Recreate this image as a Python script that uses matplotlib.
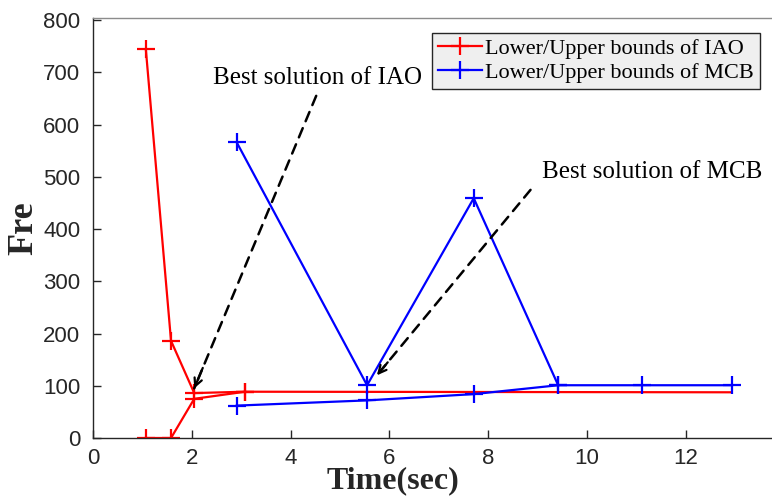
import matplotlib
matplotlib.use('Agg')
import matplotlib.pyplot as plt

# IAO bounds
iao_up_x = [1.07, 1.58, 2.05, 3.08, 12.93]
iao_up_y = [744, 186, 86, 88.6, 87.5]
iao_lo_x = [1.07, 1.58, 2.05, 3.08]
iao_lo_y = [0, 0, 75, 88.6]

# MCB bounds
mcb_up_x = [2.91, 5.55, 7.71, 9.42, 11.12, 12.94]
mcb_up_y = [566, 101, 459, 101, 101, 101]
mcb_lo_x = [2.91, 5.55, 7.71, 9.42]
mcb_lo_y = [62, 72, 84, 101]

xticks = [0, 2, 4, 6, 8, 10, 12]
yticks = [0, 100, 200, 300, 400, 500, 600, 700, 800]

fig = plt.figure(figsize=(7.72, 5.0), dpi=100)
ax = fig.add_axes([93 / 772, 1 - 438 / 500, 1 - 93 / 772, 420 / 500])

gray = '#262626'
lw = 1.6
ms = 13

ax.plot(iao_lo_x, iao_lo_y, color='red', lw=lw, marker='+', ms=ms, mew=lw)
ax.plot(iao_up_x, iao_up_y, color='red', lw=lw, marker='+', ms=ms, mew=lw,
        markevery=[0, 1, 2, 3], label='Lower/Upper bounds of IAO')
ax.plot(mcb_lo_x, mcb_lo_y, color='blue', lw=lw, marker='+', ms=ms, mew=lw)
ax.plot(mcb_up_x, mcb_up_y, color='blue', lw=lw, marker='+', ms=ms, mew=lw,
        label='Lower/Upper bounds of MCB')

serif = ['Liberation Serif', 'DejaVu Serif']


def dashed_arrow(start, end):
    # dashed shaft plus a small solid head at the end
    ax.annotate('', xy=end, xytext=start,
                arrowprops=dict(arrowstyle='-', linestyle=(0, (4, 3)), color='black', lw=1.8,
                                shrinkA=0, shrinkB=0))
    fx = start[0] + 0.93 * (end[0] - start[0])
    fy = start[1] + 0.93 * (end[1] - start[1])
    ax.annotate('', xy=end, xytext=(fx, fy),
                arrowprops=dict(arrowstyle='->', color='black', lw=1.6,
                                mutation_scale=14, shrinkA=0, shrinkB=0))


dashed_arrow((4.52, 655), (2.05, 95))
ax.text(2.43, 689, 'Best solution of IAO', family=serif, fontsize=18,
        va='center', ha='left', color='black')
dashed_arrow((8.86, 475), (5.75, 120))
ax.text(9.09, 509, 'Best solution of MCB', family=serif, fontsize=18,
        va='center', ha='left', color='black')

ax.set_xlim(0, 13.75)
ax.set_ylim(0, 804)
ax.set_xticks(xticks)
ax.set_yticks(yticks)
ax.tick_params(direction='in', length=6, width=1, colors=gray, labelsize=16,
               pad=9, top=False, right=False)
ax.tick_params(axis='x', pad=7)
for lab in ax.get_xticklabels() + ax.get_yticklabels():
    lab.set_family(['Liberation Sans', 'DejaVu Sans'])
for s in ['left', 'bottom', 'top']:
    ax.spines[s].set_color(gray)
    ax.spines[s].set_linewidth(1.0)
ax.spines['top'].set_color('#8c8c8c')
ax.spines['right'].set_visible(False)

ax.set_ylabel('Fre', family=serif, fontsize=26, fontweight='bold', color=gray)
ax.yaxis.set_label_coords(-0.078, 0.5)
ax.set_xlabel('Time(sec)', family=serif, fontsize=23, fontweight='bold', color=gray)
ax.xaxis.set_label_coords((393 - 93) / 679, -0.068)

leg = ax.legend(loc='upper right', bbox_to_anchor=(0.982, 0.964), prop={'family': serif, 'size': 16},
                fancybox=False, framealpha=1, facecolor='#efefef', edgecolor=gray,
                handlelength=2.0, handletextpad=0.15, borderpad=0.25, labelspacing=0.15,
                borderaxespad=0)
leg.get_frame().set_linewidth(1.0)

fig.savefig('out.png', dpi=100)
